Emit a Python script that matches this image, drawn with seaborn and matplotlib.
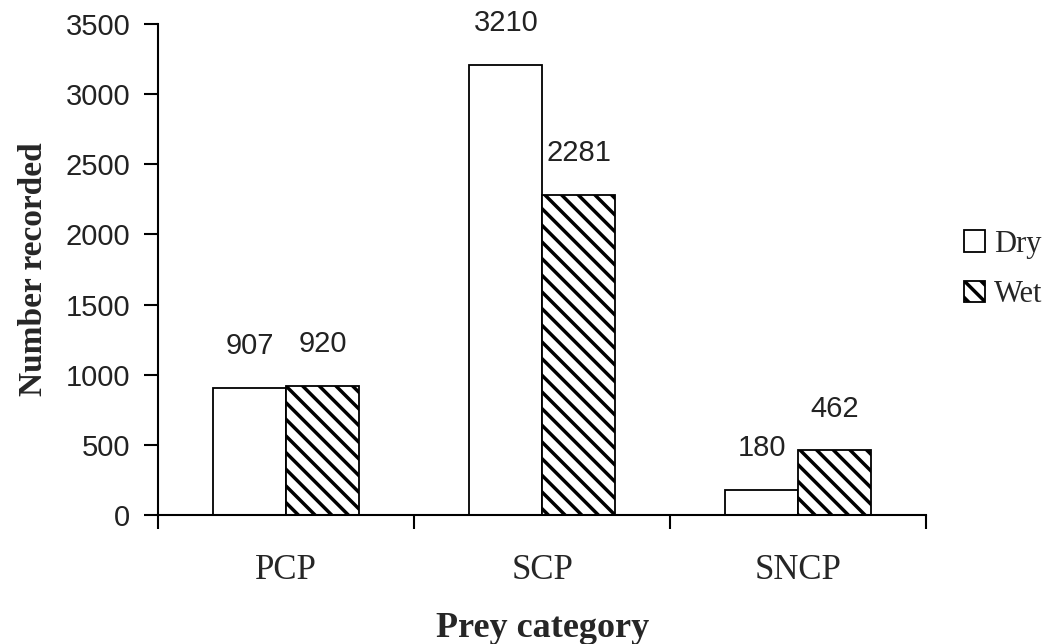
import matplotlib
matplotlib.use("Agg")
import matplotlib.pyplot as plt
import seaborn as sns
import pandas as pd
from matplotlib.patches import Patch
from matplotlib.ticker import FixedLocator

# ---------------------------------------------------------------------------
# Data
# ---------------------------------------------------------------------------
categories = ["PCP", "SCP", "SNCP"]
seasons = ["Dry", "Wet"]
dry_counts = [907, 3210, 180]
wet_counts = [920, 2281, 462]
y_ticks = [0, 500, 1000, 1500, 2000, 2500, 3000, 3500]

df = pd.DataFrame({
    "category": categories * 2,
    "season": ["Dry"] * len(categories) + ["Wet"] * len(categories),
    "count": dry_counts + wet_counts,
})

SERIF = "Liberation Serif"
SANS = "Liberation Sans"

sns.set_style("white")
plt.rcParams["hatch.linewidth"] = 2.5
plt.rcParams["hatch.color"] = "black"

fig = plt.figure(figsize=(10.54, 6.44), dpi=100)
ax = fig.add_axes([0.150, 0.200, 0.729, 0.763])

sns.barplot(
    data=df, x="category", y="count", hue="season",
    order=categories, hue_order=seasons,
    palette={"Dry": "white", "Wet": "white"},
    width=0.57, gap=0, edgecolor="black", linewidth=1.3,
    legend=False, ax=ax,
)

# Wet bars get the dense diagonal hatch
for cont, season in zip(ax.containers, seasons):
    for bar in cont:
        if season == "Wet":
            bar.set_hatch("\\\\")
    ax.bar_label(cont, labels=[str(int(v)) for v in cont.datavalues],
                 padding=20, fontsize=21, family=SANS, color="#222222")

ax.set_xlim(-0.5, 2.5)
ax.set_ylim(0, 3500)
ax.set_yticks(y_ticks)
ax.set_yticklabels([str(t) for t in y_ticks], family=SANS, fontsize=21, color="#222222")
ax.set_xticks(range(len(categories)))
ax.set_xticklabels(categories, family=SERIF, fontsize=25)
ax.xaxis.set_minor_locator(FixedLocator([-0.5, 0.5, 1.5, 2.5]))
ax.tick_params(axis="x", which="major", length=0, pad=28)
ax.tick_params(axis="x", which="minor", length=10, width=1.5, direction="out", color="black", bottom=True)
ax.tick_params(axis="y", length=10, width=1.5, direction="out", color="black", left=True, pad=10)

for side in ["top", "right"]:
    ax.spines[side].set_visible(False)
for side in ["left", "bottom"]:
    ax.spines[side].set_color("black")
    ax.spines[side].set_linewidth(1.5)

ax.set_xlabel("Prey category", family=SERIF, fontweight="bold", fontsize=26, labelpad=18)
ax.set_ylabel("Number recorded", family=SERIF, fontweight="bold", fontsize=24, labelpad=12)

handles = [
    Patch(facecolor="white", edgecolor="black", linewidth=1.3, label="Dry"),
    Patch(facecolor="white", edgecolor="black", linewidth=1.3, hatch="\\\\", label="Wet"),
]
ax.legend(handles=handles, loc="center left", bbox_to_anchor=(1.033, 0.50),
          borderaxespad=0, frameon=False, prop={"family": SERIF, "size": 22},
          handlelength=0.7, handleheight=0.7, handletextpad=0.27, labelspacing=0.7)

fig.savefig("out.png", dpi=100)
